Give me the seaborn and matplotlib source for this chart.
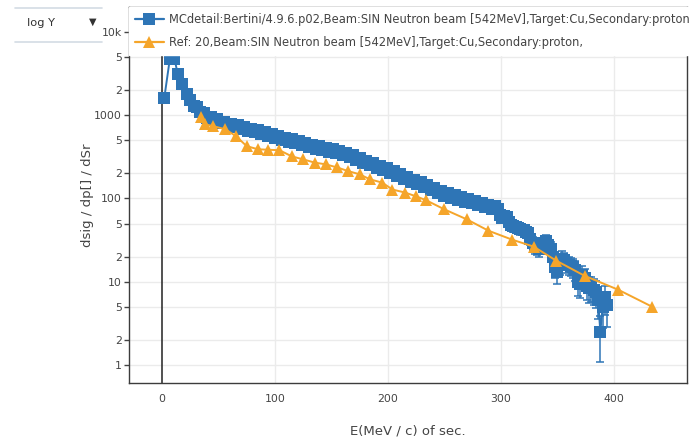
import matplotlib
matplotlib.use("Agg")
import matplotlib.pyplot as plt
from matplotlib.lines import Line2D
from matplotlib.ticker import FixedLocator, FixedFormatter, NullLocator
import pandas as pd
import seaborn as sns

# Monte Carlo spectrum: energy (MeV/c), cross section, statistical error
mc_energy = [2, 7, 11, 14, 18, 22, 25, 28, 31, 34, 37, 40, 43, 46, 49, 52, 55, 58,
             61, 64, 67, 70, 73, 76, 79, 82, 85, 88, 91, 94, 97, 100, 103, 106,
             109, 112, 115, 118, 121, 124, 127, 130, 133, 136, 139, 142, 145, 148,
             151, 154, 157, 160, 163, 166, 169, 172, 175, 178, 181, 184, 187, 190,
             193, 196, 199, 202, 205, 208, 211, 214, 217, 220, 223, 226, 229, 232,
             235, 238, 241, 244, 247, 250, 253, 256, 259, 262, 265, 268, 271, 274,
             277, 280, 283, 286, 289, 292, 295, 297, 299, 301, 303, 305, 307, 309,
             311, 313, 315, 317, 320, 322, 324, 326, 328, 330, 332, 334, 336, 338,
             340, 342, 344, 346, 348, 350, 352, 354, 356, 358, 360, 362, 364, 366,
             368, 370, 372, 374, 376, 378, 380, 382, 384, 386, 388, 390, 392, 394]
mc_dsig = [1600, 4800, 4800, 3100, 2350, 1800, 1540, 1290, 1260, 1080, 1070, 930,
           965, 870, 900, 805, 830, 745, 790, 715, 755, 680, 720, 650, 690, 625,
           660, 590, 625, 560, 590, 530, 560, 500, 535, 480, 512, 460, 492, 438,
           465, 418, 445, 398, 424, 380, 408, 366, 392, 350, 372, 330, 350, 311,
           330, 292, 306, 270, 285, 250, 267, 234, 249, 220, 232, 204, 215, 187,
           197, 172, 180, 158, 168, 148, 157, 138, 147, 128, 134, 116, 123, 108,
           115, 102, 109, 96, 103, 91, 99, 88, 94, 84, 89, 78, 83, 74, 81, 74, 64,
           58, 62, 60, 52, 48, 47, 45, 44, 43, 42, 40, 38, 33, 29, 27, 26, 25, 27,
           29, 31, 28, 25, 20, 15, 13, 16, 19, 18, 17, 16, 15.5, 15, 14, 10, 9.5,
           12, 11, 9, 8.5, 8.6, 8, 7.5, 6, 2.5, 5, 6.5, 5.2]
mc_err = [40, 70, 70, 56, 48, 42, 39, 36, 35, 33, 32, 31, 30, 30, 29, 29, 28, 28,
          27, 27, 27, 26, 26, 26, 26, 25, 25, 25, 24, 24, 24, 23, 23, 23, 22, 22,
          22, 22, 22, 21, 21, 21, 21, 20, 20, 20, 20, 19, 19, 19, 19, 19, 18, 18,
          18, 17, 17, 17, 16, 16, 16, 16, 15, 15, 15, 15, 14, 14, 14, 13, 13, 13,
          13, 12, 12, 12, 12, 12, 11, 11, 11, 11, 10, 10, 10, 10, 10, 10, 10, 10,
          9.5, 9.4, 9.2, 9.1, 8.9, 8.8, 8.8, 8.6, 8.0, 7.6, 7.9, 7.7, 7.2, 6.9,
          6.9, 6.7, 6.6, 6.6, 6.5, 6.3, 6.2, 5.7, 5.4, 5.2, 5.1, 5.0, 5.2, 5.4,
          5.6, 5.3, 5.0, 4.5, 3.9, 3.6, 4.0, 4.4, 4.2, 4.1, 4.0, 3.9, 3.9, 3.7,
          3.2, 3.1, 3.5, 3.3, 3.0, 2.9, 2.9, 2.8, 2.7, 2.4, 1.4, 2.2, 2.5, 2.3]

# Reference measurement
ref_energy = [34.5, 38, 45, 56, 65.5, 75, 85, 94, 104, 115, 125, 135, 145, 155,
              165, 175, 184, 195, 204, 215, 225, 234, 250, 270, 289, 310, 329,
              349, 374, 404, 434]
ref_dsig = [946, 780, 740, 680, 560, 425, 390, 385, 380, 320, 295, 270, 257, 236,
            213, 195, 170, 155, 128, 118, 106, 95, 74, 56, 41, 32, 26.4, 17.9,
            11.8, 8.0, 5.0]

mc_label = ("MCdetail:Bertini/4.9.6.p02,Beam:SIN Neutron beam [542MeV],"
            "Target:Cu,Secondary:proton")
ref_label = "Ref: 20,Beam:SIN Neutron beam [542MeV],Target:Cu,Secondary:proton,"

y_ticks = [1, 2, 5, 10, 20, 50, 100, 200, 500, 1000, 2000, 5000, 10000]
y_tick_labels = ["1", "2", "5", "10", "2", "5", "100", "2", "5", "1000", "2", "5", "10k"]
x_ticks = [0, 100, 200, 300, 400]
x_tick_labels = ["0", "100", "200", "300", "400"]

BLUE = "#2e75b6"
ORANGE = "#f5a52a"
TEXT = "#444444"

sns.set_theme(style="white")
plt.rcParams["font.family"] = ["DejaVu Sans"]

W, H = 689, 441
fig = plt.figure(figsize=(W / 100, H / 100), dpi=100)
ax = fig.add_axes([129 / W, 1 - 383 / H, 558 / W, 376 / H])

mc = pd.DataFrame({"energy": mc_energy, "dsig": mc_dsig, "err": mc_err})
ref = pd.DataFrame({"energy": ref_energy, "dsig": ref_dsig})

ax.set_yscale("log")
ax.set_xlim(-29.2, 464.7)
ax.set_ylim(0.608, 19950)

# grid and zero line
for xv in x_ticks[1:]:
    ax.axvline(xv, color="#ebebeb", lw=1, zorder=0)
for yv in y_ticks:
    ax.axhline(yv, color="#ebebeb", lw=1, zorder=0)
ax.axvline(0, color="#333333", lw=1.2, zorder=1)

ax.errorbar(mc["energy"], mc["dsig"], yerr=mc["err"], fmt="none",
            ecolor=BLUE, elinewidth=1.1, capsize=2.8, capthick=1.1, zorder=2)
sns.lineplot(data=mc, x="energy", y="dsig", ax=ax, color=BLUE, lw=1.4,
             marker="s", markersize=8, markeredgewidth=0, sort=False,
             estimator=None, zorder=3)
sns.lineplot(data=ref, x="energy", y="dsig", ax=ax, color=ORANGE, lw=1.4,
             marker="^", markersize=8.5, markeredgewidth=0, sort=False,
             estimator=None, zorder=4)

ax.xaxis.set_major_locator(FixedLocator(x_ticks))
ax.xaxis.set_major_formatter(FixedFormatter(x_tick_labels))
ax.yaxis.set_major_locator(FixedLocator(y_ticks))
ax.yaxis.set_major_formatter(FixedFormatter(y_tick_labels))
ax.yaxis.set_minor_locator(NullLocator())
ax.xaxis.set_minor_locator(NullLocator())
ax.tick_params(axis="x", length=0, pad=8, labelsize=7.8, labelcolor=TEXT)
ax.tick_params(axis="y", length=3.5, width=1, color=TEXT, pad=1.5,
               labelsize=7.8, labelcolor=TEXT, left=True, direction="out")
for sp in ax.spines.values():
    sp.set_visible(True)
    sp.set_color("#3c3c3c")
    sp.set_linewidth(1)

ax.set_xlabel("E(MeV / c) of sec.", fontsize=9.5, color=TEXT)
ax.set_ylabel("dsig / dp[] / dSr", fontsize=9.5, color=TEXT)
ax.xaxis.set_label_coords(0.5, -0.11)
ax.yaxis.set_label_coords(-0.062, 0.5)

handles = [
    Line2D([0], [0], color=BLUE, lw=1.6, marker="s", markersize=8, markeredgewidth=0),
    Line2D([0], [0], color=ORANGE, lw=1.6, marker="^", markersize=8.5, markeredgewidth=0),
]
leg = ax.legend(handles, [mc_label, ref_label], loc="upper left",
                bbox_to_anchor=(0, 1), borderaxespad=0, frameon=True,
                fancybox=False, facecolor="white", edgecolor="white",
                framealpha=1, fontsize=8.3, handlelength=2.45,
                handletextpad=0.43, labelspacing=0.83, borderpad=0.55)
for t in leg.get_texts():
    t.set_color(TEXT)
leg.set_zorder(10)

# "log Y" selector above the axis area
for yy in (8, 42):
    fig.add_artist(Line2D([15 / W, 102 / W], [1 - yy / H, 1 - yy / H],
                          transform=fig.transFigure, color="#d3dbe4", lw=1.2))
fig.text(27 / W, 1 - 23 / H, "log Y", fontsize=8.2, color="#333333", va="center")
fig.text(93 / W, 1 - 22 / H, "▼", fontsize=7, color="#333333", va="center", ha="center")

fig.savefig("out.png", dpi=100)
